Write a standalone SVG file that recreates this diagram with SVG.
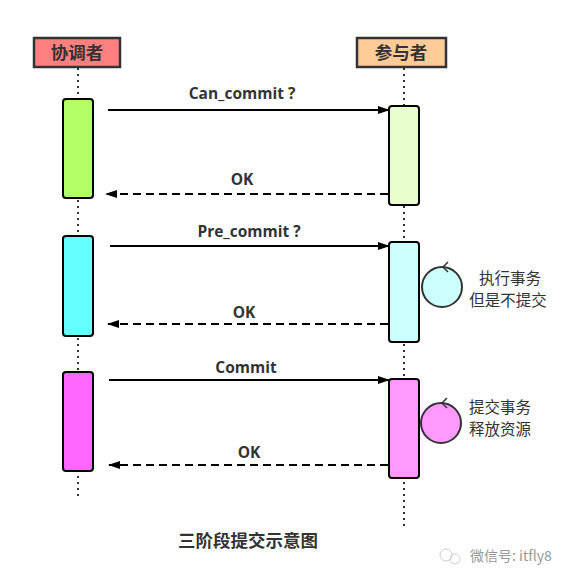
<svg xmlns="http://www.w3.org/2000/svg" width="571" height="583" viewBox="0 0 571 583">
<defs>
<marker id="ah" markerWidth="12" markerHeight="8" refX="11" refY="4" orient="auto" markerUnits="userSpaceOnUse">
<path d="M0,0 L12,4 L0,8 Z" fill="#000"/>
</marker>
<style>
.hdr{stroke:#333;stroke-width:2.5}
.ht{font-family:"Noto Sans CJK SC","Noto Sans",sans-serif;font-weight:bold;font-size:17.5px;fill:#333;text-anchor:middle}
.life{stroke:#333;stroke-width:2;stroke-dasharray:2 4;fill:none}
.act{stroke:#000;stroke-width:2}
.msg{stroke:#000;stroke-width:2;fill:none;marker-end:url(#ah)}
.ret{stroke:#000;stroke-width:2;fill:none;stroke-dasharray:8 5;marker-end:url(#ah)}
.lbl{font-family:"Open Sans","Noto Sans",sans-serif;font-weight:bold;font-size:15.5px;fill:#333;text-anchor:middle}
.note{font-family:"Noto Sans CJK SC",sans-serif;font-size:15.5px;fill:#333;text-anchor:middle}
.loop{stroke:#333;stroke-width:2}
</style>
</defs>
<rect width="571" height="583" fill="#fff"/>
<g id="connectors">
<line class="life" x1="78" y1="68" x2="78" y2="496"/>
<line class="life" x1="404" y1="68" x2="404" y2="526"/>
<line class="msg" x1="108" y1="110" x2="389" y2="110"/>
<line class="ret" x1="388" y1="194" x2="106" y2="194"/>
<line class="msg" x1="110" y1="246" x2="389" y2="246"/>
<line class="ret" x1="388" y1="324" x2="108" y2="324"/>
<line class="msg" x1="109" y1="380" x2="389" y2="380"/>
<line class="ret" x1="388" y1="465" x2="109" y2="465"/>
<text class="lbl" x="242" y="99">Can_commit ?</text>
<text class="lbl" x="242" y="185">OK</text>
<text class="lbl" x="249" y="237">Pre_commit ?</text>
<text class="lbl" x="244" y="318">OK</text>
<text class="lbl" x="246" y="373">Commit</text>
<text class="lbl" x="249" y="458">OK</text>
</g>
<g id="coordinator">
<rect class="hdr" x="34" y="38" width="86" height="29" fill="#ff8080"/>
<text class="ht" x="77" y="59">协调者</text>
</g>
<g id="participant">
<rect class="hdr" x="357" y="38" width="89" height="29" fill="#ffcc99"/>
<text class="ht" x="401" y="59">参与者</text>
</g>
<g id="coord-act1"><rect class="act" x="63" y="99" width="30" height="99" rx="3" fill="#b3ff66"/></g>
<g id="coord-act2"><rect class="act" x="63" y="236" width="30" height="100" rx="3" fill="#66ffff"/></g>
<g id="coord-act3"><rect class="act" x="63" y="372" width="30" height="99" rx="3" fill="#ff66ff"/></g>
<g id="part-act1"><rect class="act" x="389" y="106" width="30" height="99" rx="3" fill="#e6ffcc"/></g>
<g id="part-act2"><rect class="act" x="389" y="242" width="30" height="100" rx="3" fill="#ccffff"/></g>
<g id="part-act3"><rect class="act" x="389" y="379" width="30" height="99" rx="3" fill="#ff99ff"/></g>
<g id="loop1">
<circle class="loop" cx="442" cy="287" r="20" fill="#ccffff"/>
<path d="M448,262 L443,267 L448,272" fill="none" stroke="#333" stroke-width="1.5"/>
<text class="note" x="510" y="284">执行事务</text>
<text class="note" x="508" y="306">但是不提交</text>
</g>
<g id="loop2">
<circle class="loop" cx="441" cy="423" r="20" fill="#ff99ff"/>
<path d="M447,398 L442,403 L447,408" fill="none" stroke="#333" stroke-width="1.5"/>
<text class="note" x="500" y="413">提交事务</text>
<text class="note" x="500" y="435">释放资源</text>
</g>
<text x="248" y="547" font-family="Noto Sans CJK SC,sans-serif" font-weight="bold" font-size="17.5" fill="#333" text-anchor="middle">三阶段提交示意图</text>
<g id="watermark">
<circle cx="446" cy="555" r="6" fill="none" stroke="#ccc" stroke-width="1"/>
<circle cx="455" cy="559" r="5" fill="none" stroke="#ccc" stroke-width="1"/>
<text x="470" y="561" font-family="Noto Sans CJK SC,sans-serif" font-size="14" fill="#999">微信号: itfly8</text>
</g>
</svg>
